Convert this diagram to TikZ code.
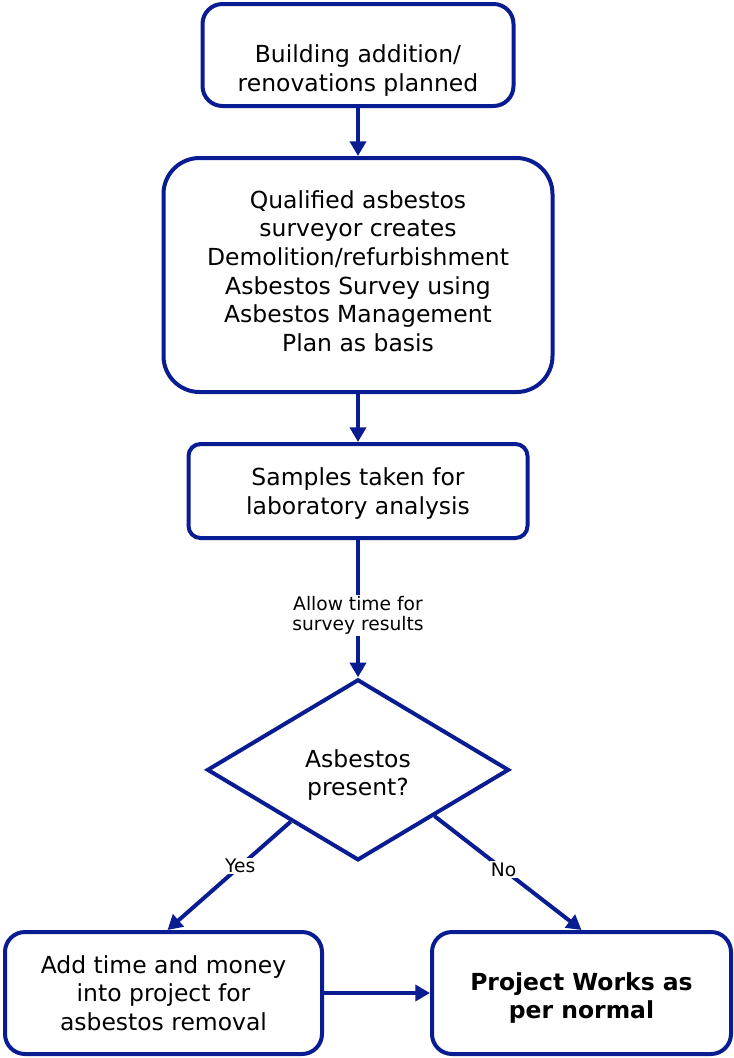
\documentclass[tikz,border=0pt]{standalone}
\usepackage{fontspec}
\setmainfont{DejaVu Sans}
\usepackage{tikz}
\usetikzlibrary{arrows.meta,shapes.geometric,positioning,calc}
\definecolor{flowblue}{RGB}{10,28,145}
\tikzset{
  stepbox/.style={draw=flowblue, line width=3pt, rounded corners=#1,
                  align=center, font=\fontsize{17.6}{21.5}\selectfont,
                  inner sep=4pt},
  stepbox/.default=15pt,
  decbox/.style ={draw=flowblue, line width=3pt, diamond, align=center,
                  minimum width=226.5pt, minimum height=135.75pt,
                  font=\fontsize{17.6}{21.5}\selectfont, inner sep=0pt},
  lbl/.style    ={fill=white, align=center, inner sep=1pt,
                  font=\fontsize{14}{15}\selectfont},
  arr/.style    ={-{Triangle[length=11pt,width=12pt]}, line width=3pt,
                  draw=flowblue},
}
\begin{document}
\begin{tikzpicture}[x=0.75pt,y=-0.75pt]
  \useasboundingbox (0,0) rectangle (734,1058);
  \node[stepbox, minimum width=233.25pt, minimum height=76.5pt,
        text height=58.3pt] (plan) at (358,55)
       {Building addition/\\renovations planned};
  \node[stepbox=27pt, minimum width=291.75pt, minimum height=175.5pt,
        below=36pt of plan, text depth=6pt] (survey)
       {Qualified asbestos\\surveyor creates\\Demolition/refurbishment\\Asbestos Survey using\\Asbestos Management\\Plan as basis};
  \node[stepbox=9pt, minimum width=254.25pt, minimum height=70.5pt,
        below=36pt of survey, text height=38.2pt] (samp)
       {Samples taken for\\laboratory analysis};
  \node[decbox, below=103pt of samp, text height=42.4pt] (dia) {Asbestos\\present?};
  \node[stepbox, minimum width=237.75pt, minimum height=91.5pt] (cost) at (163.5,993)
       {Add time and money\\into project for\\asbestos removal};
  \node[stepbox, minimum width=224.25pt, minimum height=91.5pt,
        right=79.5pt of cost, text height=42.4pt,
        font=\fontsize{17.6}{21.5}\selectfont\bfseries] (norm)
       {Project Works as\\per normal};
  % connectors
  \draw[arr] (plan) -- (survey);
  \draw[arr] (survey) -- (samp);
  \draw[arr] (samp) -- node[lbl, pos=0.55] {Allow time for\\survey results} (dia);
  \draw[arr] ($(dia.west)!0.56!(dia.south)$) -- node[lbl, pos=0.41] {Yes} ([xshift=3pt]cost.north);
  \draw[arr] ($(dia.east)!0.5!(dia.south)$) -- node[lbl, pos=0.47] {No} (norm.north);
  \draw[arr] (cost) -- (norm);
\end{tikzpicture}
\end{document}
